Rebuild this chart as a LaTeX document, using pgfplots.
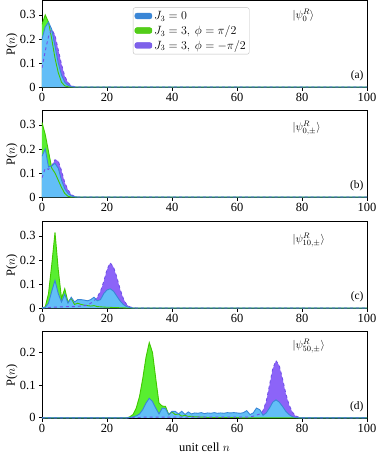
\documentclass[border=0pt]{standalone}
\usepackage{pgfplots}
\pgfplotsset{compat=1.18}
\usepackage{pgfplotstable}
\usepackage{fontspec}
\setmainfont{Liberation Serif}

\definecolor{bfill}{HTML}{62BEF7}
\definecolor{bline}{HTML}{3A86D6}
\definecolor{gfill}{HTML}{58EE30}
\definecolor{gline}{HTML}{40C800}
\definecolor{pfill}{HTML}{8C64F8}
\definecolor{pline}{HTML}{7050E8}

\pgfplotstableread{
n b g p
0 0.20 0.26 0.08
1 0.25 0.30 0.15
2 0.27 0.27 0.21
3 0.24 0.20 0.24
4 0.17 0.12 0.215
5 0.10 0.06 0.155
6 0.05 0.02 0.095
7 0.02 0.005 0.045
8 0.007 0.001 0.018
9 0.002 0 0.006
10 0 0 0.001
11 0 0 0
100 0 0 0
}\tabA

\pgfplotstableread{
n b g p
0 0.17 0.31 0.08
1 0.20 0.26 0.12
2 0.125 0.19 0.115
3 0.13 0.12 0.13
4 0.14 0.10 0.155
5 0.12 0.07 0.15
6 0.07 0.04 0.11
7 0.035 0.015 0.06
8 0.015 0.003 0.03
9 0.005 0 0.01
10 0.001 0 0.003
11 0 0 0
100 0 0 0
}\tabB

\pgfplotstableread{
n b g p
0 0 0 0
1 0.003 0.005 0.001
2 0.02 0.06 0.002
3 0.07 0.18 0.003
4 0.115 0.315 0.004
5 0.06 0.16 0.004
6 0.025 0.04 0.005
7 0.058 0.08 0.005
8 0.02 0.025 0.006
9 0.045 0.04 0.006
10 0.025 0.015 0.006
11 0.035 0.02 0.007
12 0.035 0.015 0.008
13 0.033 0.012 0.01
14 0.03 0.01 0.012
15 0.035 0.008 0.02
16 0.045 0.01 0.03
17 0.03 0.006 0.045
18 0.035 0.005 0.07
19 0.06 0.004 0.11
20 0.075 0.003 0.16
21 0.08 0.003 0.188
22 0.07 0.002 0.17
23 0.05 0.002 0.13
24 0.03 0.001 0.08
25 0.015 0.001 0.04
26 0.006 0 0.015
27 0.002 0 0.005
28 0 0 0.001
29 0 0 0
100 0 0 0
}\tabC

\pgfplotstableread{
n b g p
0 0 0 0
26 0 0 0
27 0.001 0.003 0
28 0.003 0.01 0.001
29 0.006 0.03 0.001
30 0.012 0.065 0.001
31 0.025 0.12 0.002
32 0.045 0.185 0.002
33 0.06 0.23 0.002
34 0.05 0.2 0.002
35 0.03 0.12 0.002
36 0.012 0.045 0.002
37 0.03 0.036 0.002
38 0.028 0.035 0.002
39 0.01 0.01 0.002
40 0.02 0.018 0.002
41 0.02 0.01 0.002
42 0.012 0.012 0.002
43 0.02 0.005 0.002
44 0.01 0.008 0.002
45 0.018 0.004 0.002
46 0.012 0.005 0.002
47 0.015 0.003 0.002
48 0.014 0.003 0.002
49 0.016 0.002 0.002
50 0.013 0.002 0.002
51 0.015 0.001 0.002
52 0.014 0.001 0.002
53 0.016 0.001 0.002
54 0.014 0.001 0.002
55 0.015 0.001 0.002
56 0.014 0.001 0.002
57 0.016 0.001 0.002
58 0.015 0.001 0.002
59 0.016 0.001 0.002
60 0.015 0.001 0.002
61 0.014 0 0.002
62 0.016 0 0.002
63 0.022 0 0.002
64 0.01 0 0.003
65 0.015 0 0.005
66 0.03 0 0.008
67 0.025 0 0.012
68 0.008 0 0.022
69 0.015 0 0.05
70 0.03 0 0.10
71 0.048 0 0.15
72 0.055 0 0.175
73 0.048 0 0.16
74 0.035 0 0.12
75 0.02 0 0.075
76 0.01 0 0.04
77 0.004 0 0.018
78 0.001 0 0.006
79 0 0 0.002
80 0 0 0
100 0 0 0
}\tabD

\newcommand{\drawpanel}[1]{%
  \addplot[forget plot, draw=none, fill=pfill] table[x=n,y=p]{#1} \closedcycle;
  \addplot[forget plot, draw=none, fill=gfill] table[x=n,y=g]{#1} \closedcycle;
  \addplot[forget plot, draw=none, fill=bfill] table[x=n,y=b]{#1} \closedcycle;
  \addplot[forget plot, gline, line width=0.9pt] table[x=n,y=g]{#1};
  \addplot[forget plot, pline, dashed, line width=0.9pt] table[x=n,y=p]{#1};
  \addplot[forget plot, bline, line width=0.9pt] table[x=n,y=b]{#1};
}

\pgfplotsset{
  panel/.style={
    scale only axis,
    width=325bp, height=87bp,
    xmin=0, xmax=100, ymin=-0.002,
    xtick={0,20,...,100},
    tick pos=left,
    tick align=outside,
    major tick length=3bp,
    tick style={black, line width=0.8pt},
    axis line style={line width=1pt},
    ticklabel style={font=\fontsize{12.5}{13}\selectfont},
    xticklabel style={yshift=1bp},
    /pgf/number format/assume math mode=true,
    ylabel={P($n$)},
    ylabel style={font=\fontsize{12.5}{13}\selectfont, at={(axis description cs:0,0.5)}, anchor=center, rotate=0, yshift=30bp},
    xlabel style={font=\fontsize{12.5}{13}\selectfont},
    clip=true,
  },
}

\begin{document}
\begin{tikzpicture}
\useasboundingbox (-42bp,87.5bp) rectangle (336bp,-367.5bp);
\begin{axis}[panel, at={(0,0)}, ymax=0.36, ytick={0,0.1,0.2,0.3},
  legend style={at={(0.28,0.92)}, anchor=north west, draw=black!25, rounded corners=2pt,
    font=\fontsize{11.5}{13}\selectfont, inner sep=1.5pt, row sep=0.5pt},
  legend cell align=left]
  \addlegendimage{area legend, fill=bline, draw=bline}
  \addlegendentry{$J_3=0$}
  \addlegendimage{area legend, fill=gline!90!white, draw=gline}
  \addlegendentry{$J_3=3,\ \phi=\pi/2$}
  \addlegendimage{area legend, fill=pline!90!white, draw=pline}
  \addlegendentry{$J_3=3,\ \phi=-\pi/2$}
  \drawpanel{\tabA}
  \node[anchor=west, font=\fontsize{11}{12}\selectfont] at (rel axis cs:0.76,0.83) {$|\psi^{R}_{0}\rangle$};
  \node[anchor=east, font=\fontsize{11.5}{12}\selectfont] at (rel axis cs:1,0.14) {(a)};
\end{axis}
\begin{axis}[panel, at={(0,-110bp)}, ymax=0.36, ytick={0,0.1,0.2,0.3}]
  \drawpanel{\tabB}
  \node[anchor=west, font=\fontsize{11}{12}\selectfont] at (rel axis cs:0.76,0.80) {$|\psi^{R}_{0,\pm}\rangle$};
  \node[anchor=east, font=\fontsize{11.5}{12}\selectfont] at (rel axis cs:1,0.14) {(b)};
\end{axis}
\begin{axis}[panel, at={(0,-221bp)}, ymax=0.36, ytick={0,0.1,0.2,0.3}]
  \drawpanel{\tabC}
  \node[anchor=west, font=\fontsize{11}{12}\selectfont] at (rel axis cs:0.76,0.79) {$|\psi^{R}_{10,\pm}\rangle$};
  \node[anchor=east, font=\fontsize{11.5}{12}\selectfont] at (rel axis cs:1,0.14) {(c)};
\end{axis}
\begin{axis}[panel, at={(0,-331bp)}, ymax=0.264, ytick={0,0.1,0.2},
  xlabel={unit cell $n$},
  xlabel style={at={(axis description cs:0.5,0)}, anchor=center, yshift=-28.5bp}]
  \drawpanel{\tabD}
  \node[anchor=west, font=\fontsize{11}{12}\selectfont] at (rel axis cs:0.76,0.83) {$|\psi^{R}_{50,\pm}\rangle$};
  \node[anchor=east, font=\fontsize{11.5}{12}\selectfont] at (rel axis cs:1,0.14) {(d)};
\end{axis}
\end{tikzpicture}
\end{document}
